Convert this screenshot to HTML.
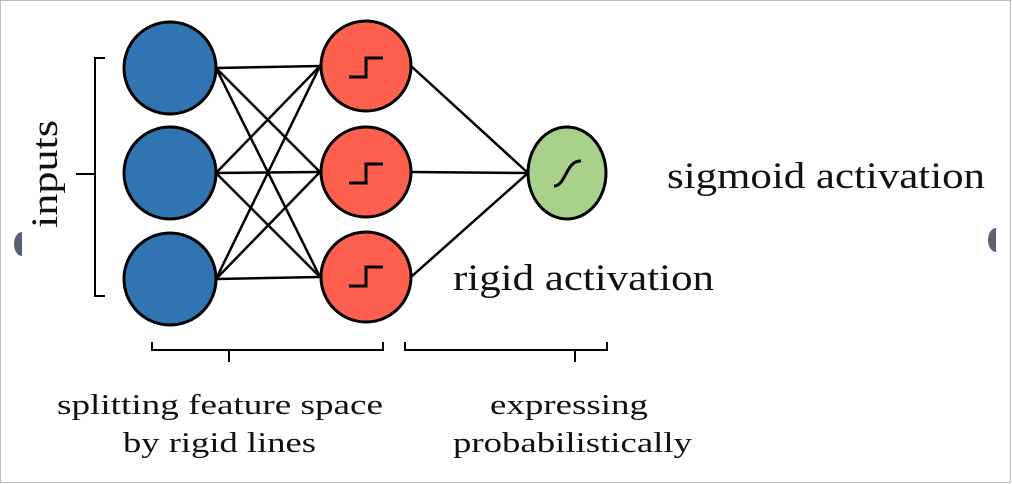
<!DOCTYPE html>
<html><head><style>
html,body{margin:0;padding:0;background:#fff;}
svg{display:block;}
text{font-family:"Liberation Serif",serif;fill:#111;}
</style></head><body>
<svg width="1012" height="484" viewBox="0 0 1012 484">
<rect x="0.5" y="0.5" width="1010" height="482" fill="#fff" stroke="#bbb"/>
<path d="M22,232 A8,12 0 0 0 22,256 Z" fill="#5a5f73"/>
<path d="M996,228 A8,12 0 0 0 996,252 Z" fill="#5a5f73"/>
<g stroke="#000" stroke-width="2.5">
<line x1="216" y1="68" x2="320" y2="66"/>
<line x1="216" y1="68" x2="320" y2="172"/>
<line x1="216" y1="68" x2="320" y2="277"/>
<line x1="216" y1="173" x2="320" y2="66"/>
<line x1="216" y1="173" x2="320" y2="172"/>
<line x1="216" y1="173" x2="320" y2="277"/>
<line x1="216" y1="279" x2="320" y2="66"/>
<line x1="216" y1="279" x2="320" y2="172"/>
<line x1="216" y1="279" x2="320" y2="277"/>
<line x1="411" y1="66" x2="528" y2="173"/>
<line x1="411" y1="172" x2="528" y2="173"/>
<line x1="411" y1="277" x2="528" y2="173"/>
</g>
<g stroke="#000" stroke-width="3">
<circle cx="170" cy="68" r="46" fill="#3074b2"/>
<circle cx="170" cy="173" r="46" fill="#3074b2"/>
<circle cx="170" cy="279" r="46" fill="#3074b2"/>
<circle cx="366" cy="66" r="45" fill="#fe6050"/>
<circle cx="366" cy="172" r="45" fill="#fe6050"/>
<circle cx="366" cy="277" r="45" fill="#fe6050"/>
<ellipse cx="567" cy="173" rx="39" ry="46" fill="#a8d18c"/>
</g>
<g stroke="#000" stroke-width="3" fill="none">
<path d="M349,77 H366 V58 H383"/>
<path d="M349,183 H366 V164 H383"/>
<path d="M349,286 H366 V267 H383"/>
<path d="M554,186 C566,186 566,160 581,161"/>
</g>
<g stroke="#000" stroke-width="2" fill="none">
<path d="M105,58 H95 V296 H105 M95,174 H76"/>
<path d="M152,342 V350 H383 V342 M229,350 V362"/>
<path d="M405,342 V350 H607 V342 M575,350 V362"/>
</g>
<text x="667" y="188" font-size="37" textLength="318" lengthAdjust="spacingAndGlyphs">sigmoid activation</text>
<text x="453" y="290" font-size="37" textLength="261" lengthAdjust="spacingAndGlyphs">rigid activation</text>
<text transform="translate(57,174) rotate(-90)" text-anchor="middle" font-size="37" textLength="108" lengthAdjust="spacingAndGlyphs">inputs</text>
<g font-size="29">
<text x="57" y="414" textLength="326" lengthAdjust="spacingAndGlyphs">splitting feature space</text>
<text x="123" y="452" textLength="193" lengthAdjust="spacingAndGlyphs">by rigid lines</text>
<text x="490" y="414" textLength="158" lengthAdjust="spacingAndGlyphs">expressing</text>
<text x="453" y="452" textLength="239" lengthAdjust="spacingAndGlyphs">probabilistically</text>
</g>
</svg>
</body></html>
